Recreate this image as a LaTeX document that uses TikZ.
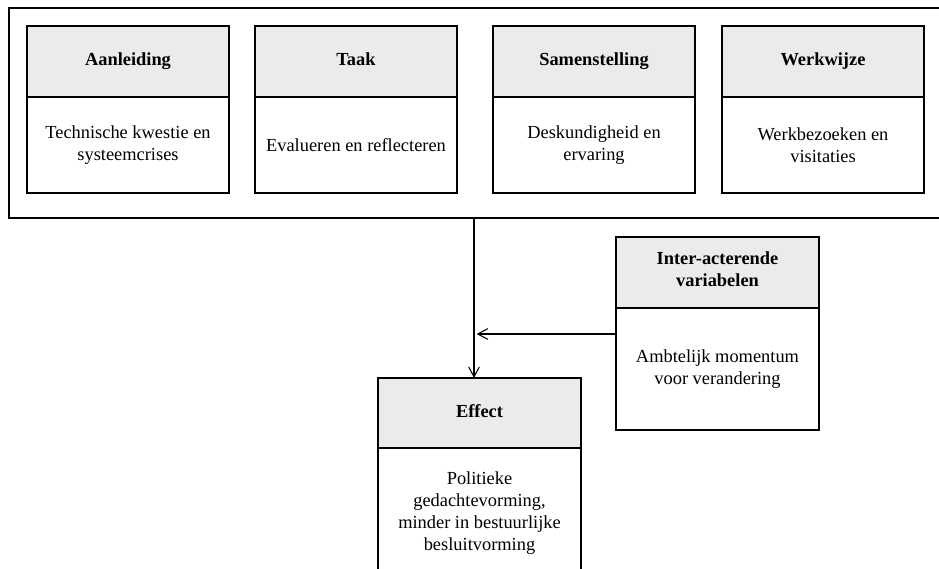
\documentclass[tikz,border=0pt]{standalone}
\usepackage{fontspec}
\setmainfont{Liberation Serif}
\usetikzlibrary{positioning,arrows.meta}
\definecolor{headgrey}{RGB}{235,235,235}

\begin{document}
\fontsize{13.8pt}{16.5pt}\selectfont
\begin{tikzpicture}[x=0.75pt,y=-0.75pt,>={Straight Barb[length=7.5pt,width=8pt]},thick,
    head/.style={rectangle,draw,fill=headgrey,minimum width=151.5pt,minimum height=53.25pt,outer sep=0pt,inner sep=2pt,align=center,font=\bfseries,execute at begin node=\strut},
    body/.style={rectangle,draw,minimum width=151.5pt,minimum height=72pt,outer sep=0pt,inner sep=2pt,align=center}]

            \useasboundingbox (0,0) rectangle (939,568);
            \draw[line width=1.2pt] (9,8) rectangle (950,218);

            \node[head, anchor=north west] (1) at (27,26) {Aanleiding};
            \node[body, below=0pt of 1] (1b) {Technische kwestie en\\systeemcrises};
            \node[head, right=19.5pt of 1] (2) {Taak};
            \node[body, below=0pt of 2] (2b) {Evalueren en reflecteren};
            \node[head, right=27pt of 2] (3) {Samenstelling};
            \node[body, below=0pt of 3] (3b) {Deskundigheid en\\ervaring};
            \node[head, right=20.25pt of 3] (4) {Werkwijze};
            \node[body, below=0pt of 4] (4b) {Werkbezoeken en\\visitaties};

            \node[head, anchor=north west, minimum width=152.25pt] (5) at (616,237) {Inter-acterende\\variabelen};
            \node[body, below=0pt of 5, minimum width=152.25pt, minimum height=91.5pt] (5b) {Ambtelijk momentum\\voor verandering};

            \node[head, anchor=north west, minimum width=152.25pt, minimum height=52.5pt] (6) at (378,378) {Effect};
            \node[body, below=0pt of 6, minimum width=152.25pt, minimum height=97.5pt] (6b) {Politieke\\gedachtevorming,\\minder in bestuurlijke\\besluitvorming};

            \coordinate (top) at (474,218);
            \coordinate (join) at (474,334);

            \draw[->] (top) -- (top |- 6.north);
            \draw[->, shorten >=2pt] (5b.west |- join) -- (join);
        \end{tikzpicture}
\end{document}
